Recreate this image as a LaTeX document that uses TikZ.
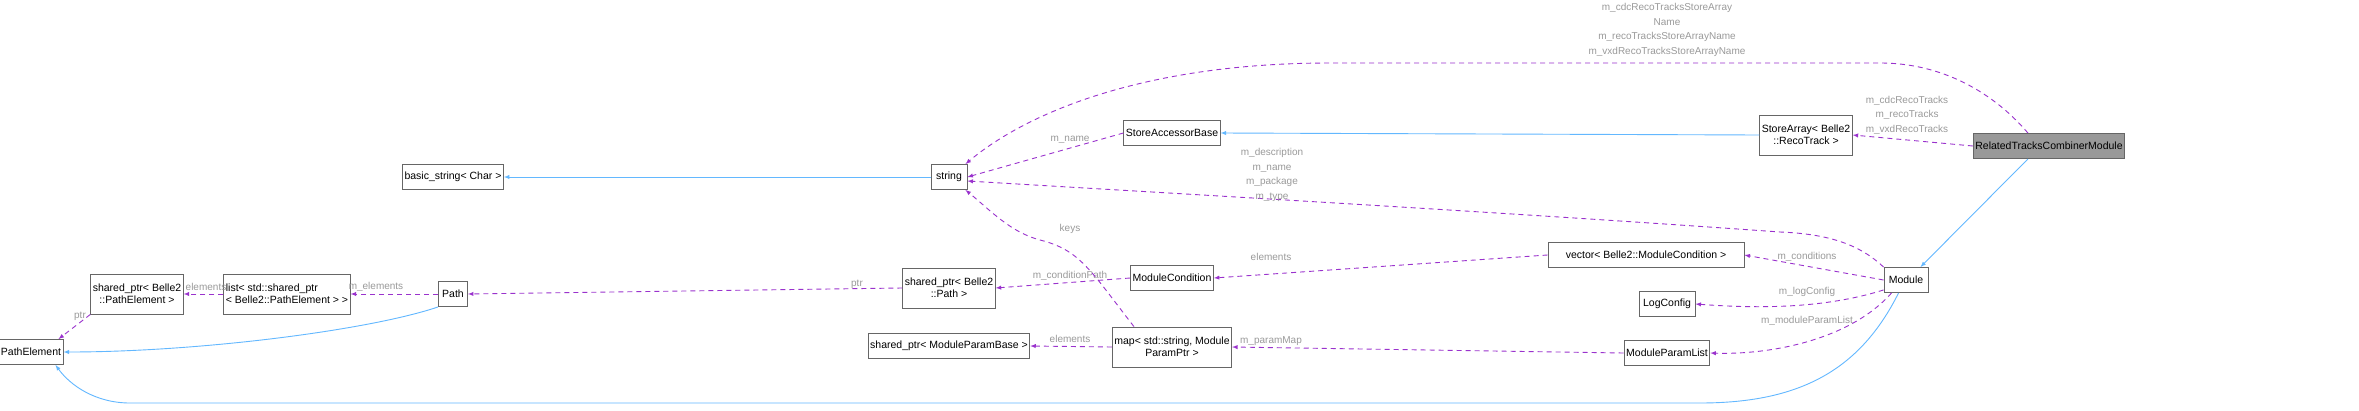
\documentclass[tikz,border=0pt]{standalone}
\usepackage{fontspec}
\setmainfont{Liberation Sans}
\usetikzlibrary{calc}
\definecolor{inhblue}{HTML}{63B8FF}
\definecolor{usepurple}{HTML}{9A32CD}
\definecolor{lblgray}{HTML}{9A9A9A}
\tikzset{
	cls/.style={draw=gray!80!black,fill=white,align=center,inner sep=2pt,minimum height=25pt,line width=0.9pt,font=\fontsize{10.5}{12}\selectfont},
	inh/.style={->,draw=inhblue,line width=0.9pt},
	dep/.style={->,draw=usepurple,line width=0.9pt,dash pattern=on 5pt off 4pt},
	lbl/.style={text=lblgray,align=center,inner sep=0pt,font=\fontsize{10}{14.5}\selectfont}
}
\begin{document}
\begin{tikzpicture}[>=latex,x=1pt,y=-1pt]
	\fill[white] (0,0) rectangle (2359,410);
	%classes
	\node[cls,fill=gray!80,minimum width=140pt] (rtcm) at (2049,146){RelatedTracksCombinerModule};
	\node[cls,minimum width=91pt,minimum height=40pt] (sarr) at (1806,135){StoreArray< Belle2\\::RecoTrack >};
	\node[cls,minimum width=44pt] (mod) at (1906,280){Module};
	\node[cls,minimum width=196pt] (vec) at (1646,255){vector< Belle2::ModuleCondition >};
	\node[cls,minimum width=56pt] (logc) at (1667,304){LogConfig};
	\node[cls,minimum width=85pt] (mpl) at (1667,353){ModuleParamList};
	\node[cls,minimum width=91pt] (sab) at (1172,133){StoreAccessorBase};
	\node[cls,minimum width=36pt] (str) at (949,177){string};
	\node[cls,minimum width=78pt] (mcond) at (1172,278){ModuleCondition};
	\node[cls,minimum width=86pt,minimum height=40pt] (spath) at (949,288){shared\_ptr< Belle2\\::Path >};
	\node[cls,minimum width=109pt,minimum height=40pt] (map) at (1172,347){map< std::string, Module\\ParamPtr >};
	\node[cls,minimum width=142pt] (spmpb) at (949,346){shared\_ptr< ModuleParamBase >};
	\node[cls,minimum width=84pt] (bstr) at (453,177){basic\_string< Char >};
	\node[cls,minimum width=29pt] (path) at (453,294){Path};
	\node[cls,minimum width=103pt,minimum height=40pt,align=left] (lst) at (287,294){list< std::shared\_ptr\\< Belle2::PathElement > >};
	\node[cls,minimum width=76pt,minimum height=40pt] (spe) at (137,294){shared\_ptr< Belle2\\::PathElement >};
	\node[cls,minimum width=57pt] (pe) at (31,352){PathElement};
	%inheritance
	\draw[inh] ($(rtcm.south west)+(55,0)$) -- ($(mod.north east)-(8,0)$);
	\draw[inh] (sarr.west) -- (sab.east);
	\draw[inh] (str.west) -- (bstr.east);
	\draw[inh] (path.south west) .. controls (370,330) and (200,352) .. (pe.east);
	\draw[inh] ($(mod.south west)+(15,0)$) .. controls (1860,370) and (1800,403) .. (1700,403) -- (130,403) .. controls (95,403) and (70,385) .. ($(pe.south east)-(8,0)$);
	%usage
	\draw[dep] ($(rtcm.north west)+(55,0)$) .. controls (2000,100) and (1950,63) .. (1880,63) -- (1330,63) .. controls (1150,63) and (1030,110) .. ($(str.north east)-(2,0)$);
	\node[lbl] (l1) at (1667,30){m\_cdcRecoTracksStoreArray\\Name\\m\_recoTracksStoreArrayName\\m\_vxdRecoTracksStoreArrayName};
	\draw[dep] (rtcm.west) -- (sarr.east);
	\node[lbl] (l2) at (1907,115){m\_cdcRecoTracks\\m\_recoTracks\\m\_vxdRecoTracks};
	\draw[dep] (sab.west) -- (str.east);
	\node[lbl] (l3) at (1070,140){m\_name};
	\draw[dep] (mod.north west) .. controls (1860,245) and (1830,234) .. (1780,232) .. controls (1500,212) and (1200,195) .. ($(str.east)+(0,4)$);
	\node[lbl] (l4) at (1272,175){m\_description\\m\_name\\m\_package\\m\_type};
	\draw[dep] (mod.west) -- (vec.east);
	\node[lbl] (l5) at (1807,257){m\_conditions};
	\draw[dep] ($(mod.south west)+(0,-3)$) .. controls (1820,310) and (1750,308) .. (logc.east);
	\node[lbl] (l6) at (1807,292){m\_logConfig};
	\draw[dep] ($(mod.south west)+(8,0)$) .. controls (1850,340) and (1770,355) .. (mpl.east);
	\node[lbl] (l7) at (1807,321){m\_moduleParamList};
	\draw[dep] (vec.west) -- (mcond.east);
	\node[lbl] (l8) at (1271,257){elements};
	\draw[dep] (mcond.west) -- (spath.east);
	\node[lbl] (l9) at (1070,276){m\_conditionPath};
	\draw[dep] ($(map.north west)+(22,0)$) .. controls (1090,270) and (1080,250) .. (1040,240) .. controls (1010,232) and (990,210) .. ($(str.south east)-(2,0)$);
	\node[lbl] (l10) at (1070,229){keys};
	\draw[dep] (map.west) -- (spmpb.east);
	\node[lbl] (l11) at (1070,339){elements};
	\draw[dep] (mpl.west) -- (map.east);
	\node[lbl] (l12) at (1271,341){m\_paramMap};
	\draw[dep] (spath.west) -- (path.east);
	\node[lbl] (l13) at (857,284){ptr};
	\draw[dep] (path.west) -- (lst.east);
	\node[lbl] (l14) at (376,287){m\_elements};
	\draw[dep] (lst.west) -- (spe.east);
	\node[lbl] (l15) at (206,287){elements};
	\draw[dep] (spe.south west) -- ($(pe.north east)-(5,0)$);
	\node[lbl] (l16) at (80,316){ptr};
	\pgfresetboundingbox
	\useasboundingbox (0,0) rectangle (2359,410);
\end{tikzpicture}
\end{document}
